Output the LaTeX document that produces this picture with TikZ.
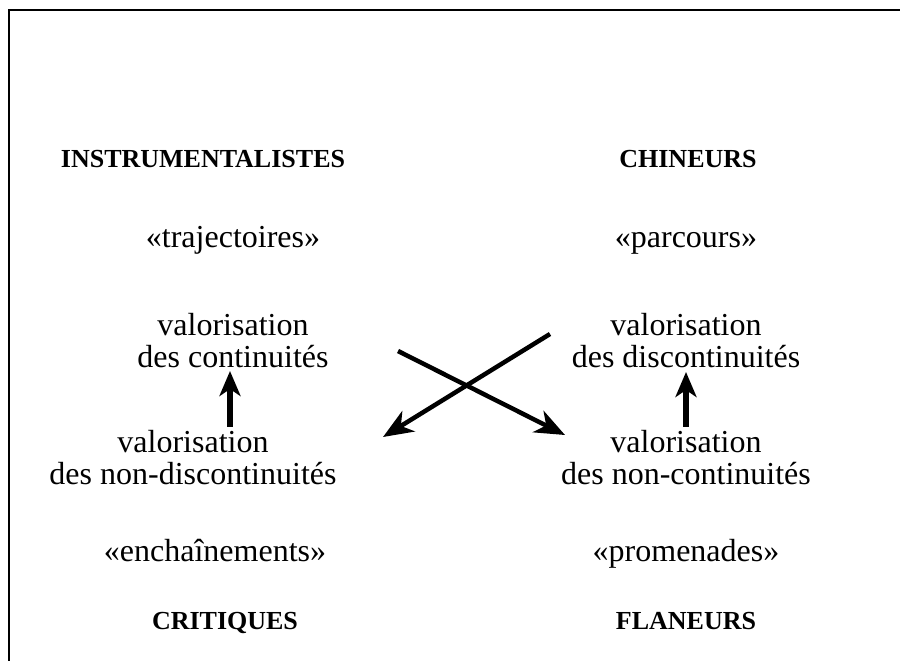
\documentclass[tikz,border=0pt]{standalone}
\usepackage{fontspec}
\setmainfont{Liberation Serif}
\usetikzlibrary{arrows.meta,positioning}
\definecolor{inkBlack}{HTML}{000000}

\begin{document}
\begin{tikzpicture}[
  x=1pt, y=-1pt,
  line width=2pt,
  every node/.style={inner sep=0pt, text=inkBlack},
  % --- Reusable styles -------------------------------------------------------
  group/.style={anchor=base, font=\fontsize{26}{30}\selectfont\bfseries},
  term/.style={anchor=base, font=\fontsize{32}{32}\selectfont},
  pair/.style={font=\fontsize{32}{32}\selectfont, align=center},
  cross/.style={-{Stealth[length=30pt,width=24pt,inset=9pt]}, draw=inkBlack, line width=4.5pt},
  lift/.style={-{Stealth[length=25pt,width=21pt,inset=7pt]}, draw=inkBlack, line width=6pt},
]
\useasboundingbox (0,0) rectangle (900,661);

% --- Frame (only top and left edges show) -----------------------------------
\draw (9,661) -- (9,10) -- (900,10);

% --- Left column -------------------------------------------------------------
\node[group] (instr) at (203,167) {INSTRUMENTALISTES};
\node[term]  (traj)  at (233,247) {«trajectoires»};
\node[pair]  (vcont) at (233,341) {valorisation\\des continuités};
\node[pair]  (vndis) at (193,458) {valorisation\\des non-discontinuités};
\node[term]  (ench)  at (215,561) {«enchaînements»};
\node[group] (crit)  at (225,629) {CRITIQUES};

% --- Right column ------------------------------------------------------------
\node[group] (chin)  at (688,167) {CHINEURS};
\node[term]  (parc)  at (686,247) {«parcours»};
\node[pair]  (vdis)  at (686,341) {valorisation\\des discontinuités};
\node[pair]  (vncon) at (686,458) {valorisation\\des non-continuités};
\node[term]  (prom)  at (686,561) {«promenades»};
\node[group] (flan)  at (686,629) {FLANEURS};

% --- Arrow ends --------------------------------------------------------------
\coordinate (xA) at (398,351);
\coordinate (xB) at (565,435);
\coordinate (xC) at (550,334);
\coordinate (xD) at (383,437);
\coordinate (upL) at (vcont.south -| 230,0);
\coordinate (upR) at (vdis.south -| 686,0);

% --- Arrows ------------------------------------------------------------------
\draw[cross] (xA) -- (xB);
\draw[cross] (xC) -- (xD);
\draw[lift] (vndis.north -| upL) ++(0,-3) -- (230,371);
\draw[lift] (vncon.north -| upR) ++(0,-3) -- (686,372);

\end{tikzpicture}
\end{document}
